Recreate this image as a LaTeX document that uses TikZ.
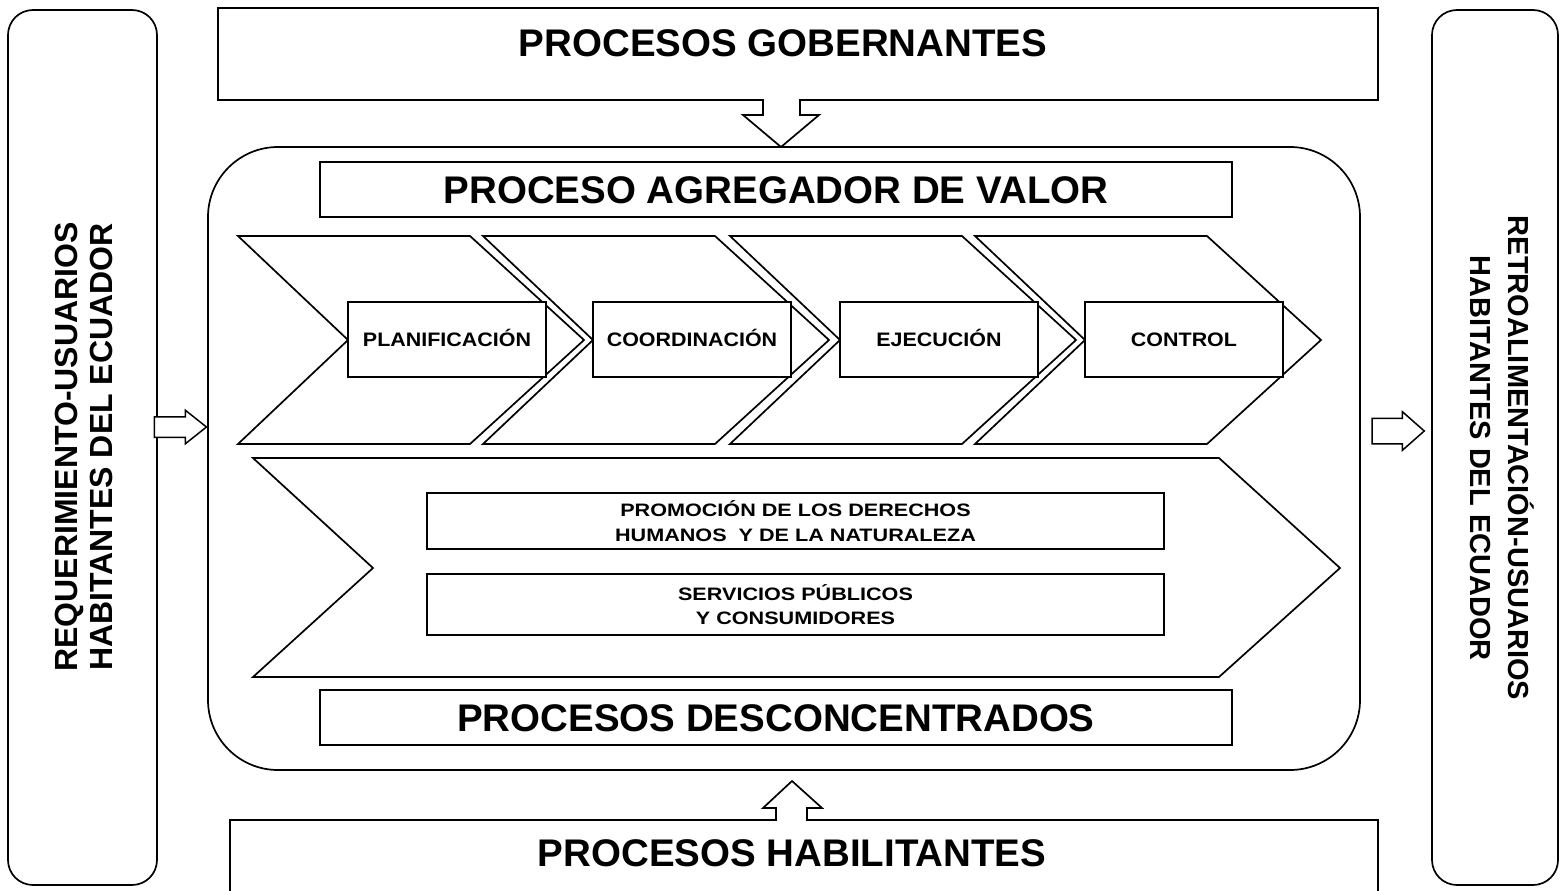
\documentclass[tikz,border=0pt]{standalone}
\usepackage{fontspec}
\setmainfont{Liberation Sans}
\newfontfamily\chfont[FakeStretch=1.1]{Liberation Sans}
\newfontfamily\wdfont[FakeStretch=1.2]{Liberation Sans}
\usetikzlibrary{shapes.arrows}
\begin{document}
\begin{tikzpicture}[x=1pt,y=-1pt,line join=miter,
  lw/.style={line width=1.7pt},
  box/.style={draw,lw,fill=white,inner sep=0pt},
  headtxt/.style={font=\fontsize{38.5}{44}\selectfont\bfseries,text height=27.5pt,text depth=0pt,inner sep=0pt},
  chbox/.style={box,minimum width=198pt,minimum height=75pt,font=\chfont\bfseries\fontsize{19.5}{23}\selectfont,text height=14pt,text depth=0pt},
  wbox/.style={box,minimum width=737pt,align=center,font=\wdfont\bfseries\fontsize{18}{24.5}\selectfont},
  sidetxt/.style={align=center,inner sep=0pt,font=\bfseries},
  blockarrow/.style={single arrow,draw,line width=1.5pt,fill=white,inner sep=0pt,text height=0pt,text depth=0pt,minimum height=52pt,single arrow head extend=6.5pt}
]
\useasboundingbox (0,0) rectangle (1563,891);
% side boxes
\node[draw,lw,rounded corners=25pt,minimum width=149pt,minimum height=875pt,inner sep=0pt] (lbox) at (82.5,447.5) {};
\node[draw,lw,rounded corners=25pt,minimum width=126pt,minimum height=875pt,inner sep=0pt] (rbox) at (1495,447.5) {};
\node[sidetxt,rotate=90,font=\bfseries\fontsize{32}{35}\selectfont] (ltext) at (83.5,447) {REQUERIMIENTO-USUARIOS\\HABITANTES DEL ECUADOR};
\node[sidetxt,rotate=-90,font=\bfseries\fontsize{29}{38}\selectfont] (rtext) at (1502,458) {RETROALIMENTACIÓN-USUARIOS\\HABITANTES DEL ECUADOR};
% central rounded box
\node[draw,lw,rounded corners=70pt,minimum width=1152pt,minimum height=623pt,inner sep=0pt] (core) at (784,458.5) {};
% top box with down arrow
\draw[lw,fill=white] (218,8) -- (1378,8) -- (1378,100) -- (800,100) -- (800,115) -- (819,115) -- (781,147) -- (743,115) -- (763,115) -- (763,100) -- (218,100) -- cycle;
\node[headtxt,anchor=base] (gob) at (783,57) {PROCESOS GOBERNANTES};
% bottom box with up arrow
\draw[lw] (230,893) -- (230,820) -- (776,820) -- (776,808) -- (763,808) -- (792,781) -- (822,808) -- (807,808) -- (807,820) -- (1378,820) -- (1378,893);
\node[headtxt,anchor=base] (hab) at (792,866) {PROCESOS HABILITANTES};
% inner header boxes
\node[box,headtxt,minimum width=912pt,minimum height=55pt] (agr) at (776,189.5) {PROCESO AGREGADOR DE VALOR};
\node[box,headtxt,minimum width=912pt,minimum height=55pt] (desc) at (776,717.5) {PROCESOS DESCONCENTRADOS};
% chevrons
\foreach \x/\n/\t in {238/1/PLANIFICACIÓN,483/2/COORDINACIÓN,730/3/EJECUCIÓN,975/4/CONTROL}{
  \draw[lw,fill=white] (\x,236) -- (\x+232,236) -- (\x+346,340) -- (\x+232,444) -- (\x,444) -- (\x+110,340) -- cycle;
  \node[chbox] (c\n) at (\x+209,339.5) {\t};
}
% big chevron
\draw[lw] (253,458) -- (1219,458) -- (1340,568) -- (1219,677) -- (253,677) -- (373,568) -- cycle;
\node[wbox,minimum height=56pt] (prom) at (795.5,521) {PROMOCIÓN DE LOS DERECHOS\\HUMANOS\ \ Y DE LA NATURALEZA};
\node[wbox,minimum height=61pt] (serv) at (795.5,604.5) {SERVICIOS PÚBLICOS\\Y CONSUMIDORES};
% side arrows
\node[blockarrow,inner ysep=9.5pt,single arrow tip angle=77] (larr) at (174,427) {};
\node[blockarrow,inner ysep=12pt,single arrow tip angle=83] (rarr) at (1391,431) {};
\end{tikzpicture}
\end{document}
